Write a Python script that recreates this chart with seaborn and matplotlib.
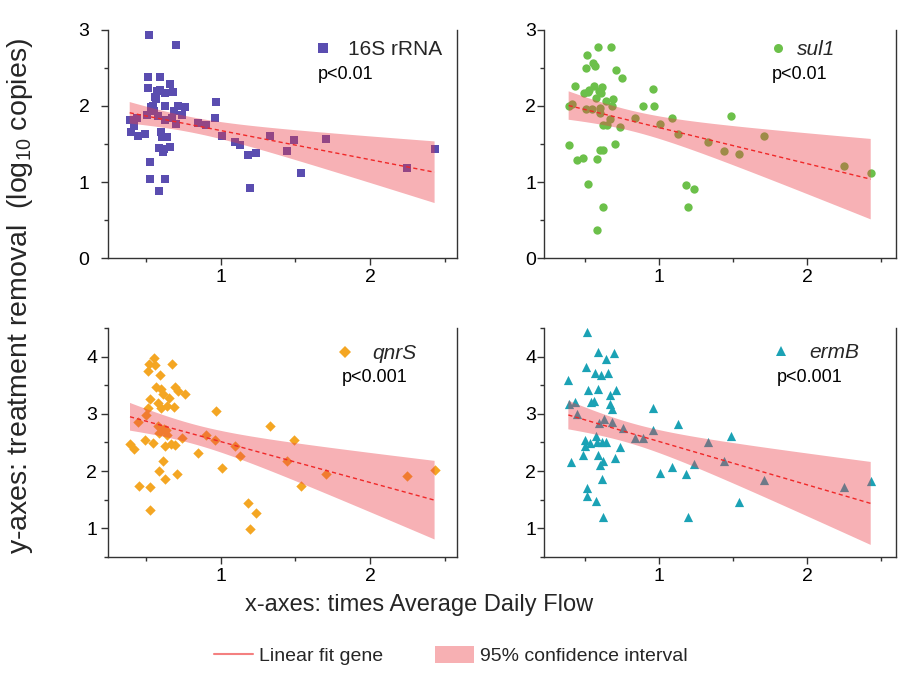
import numpy as np
import pandas as pd
import matplotlib
matplotlib.use("Agg")
import matplotlib.pyplot as plt
import seaborn as sns
from matplotlib.ticker import MultipleLocator
from matplotlib.lines import Line2D
from matplotlib.patches import Patch

# ---------------- data ----------------
x_16s = [0.388, 0.397, 0.419, 0.435, 0.446, 0.489, 0.502, 0.509, 0.509, 0.520, 0.522, 0.522,
         0.531, 0.547, 0.554, 0.561, 0.567, 0.572, 0.578, 0.583, 0.587, 0.592, 0.592, 0.599,
         0.605, 0.612, 0.617, 0.623, 0.628, 0.628, 0.628, 0.639, 0.655, 0.655, 0.673, 0.677,
         0.688, 0.697, 0.700, 0.713, 0.740, 0.760, 0.848, 0.897, 0.962, 0.966, 1.009, 1.094,
         1.128, 1.184, 1.197, 1.235, 1.332, 1.442, 1.489, 1.538, 1.706, 2.247, 2.433]
y_16s = [1.818, 1.651, 1.739, 1.835, 1.608, 1.625, 1.883, 2.238, 2.374, 2.935, 1.266, 1.042,
         1.984, 1.993, 1.927, 2.116, 2.094, 2.194, 1.870, 1.450, 0.880, 2.374, 2.203, 1.660,
         1.586, 1.389, 1.428, 2.168, 2.002, 1.038, 1.809, 1.590, 1.454, 2.286, 1.835, 2.177,
         1.936, 2.795, 1.765, 2.002, 1.883, 1.984, 1.774, 1.748, 1.840, 2.054, 1.599, 1.524,
         1.481, 1.349, 0.920, 1.380, 1.599, 1.402, 1.555, 1.117, 1.564, 1.187, 1.428]

x_sul1 = [0.393, 0.396, 0.418, 0.438, 0.447, 0.490, 0.497, 0.508, 0.508, 0.519, 0.521, 0.524,
          0.530, 0.548, 0.557, 0.564, 0.573, 0.580, 0.582, 0.587, 0.591, 0.598, 0.602, 0.604,
          0.607, 0.613, 0.620, 0.622, 0.625, 0.627, 0.643, 0.652, 0.670, 0.676, 0.685, 0.692,
          0.703, 0.715, 0.737, 0.755, 0.840, 0.897, 0.962, 0.966, 1.009, 1.092, 1.128, 1.184,
          1.196, 1.236, 1.335, 1.440, 1.490, 1.539, 1.710, 2.249, 2.429]
y_sul1 = [2.002, 1.481, 2.024, 2.256, 1.292, 1.310, 2.164, 2.501, 1.958, 2.668, 0.972, 2.177,
          2.212, 1.958, 2.562, 2.256, 2.527, 2.103, 1.305, 0.372, 2.773, 2.190, 1.971, 1.905,
          1.424, 2.168, 2.247, 1.752, 0.670, 1.424, 2.059, 1.752, 1.827, 2.773, 2.002, 2.094,
          1.498, 2.475, 1.721, 2.361, 1.840, 1.993, 2.225, 1.993, 1.756, 1.840, 1.629, 0.964,
          0.679, 0.907, 1.520, 1.402, 1.870, 1.371, 1.608, 1.213, 1.121]

x_qnrs = [0.390, 0.417, 0.444, 0.453, 0.493, 0.500, 0.509, 0.513, 0.520, 0.522, 0.522, 0.527,
          0.543, 0.549, 0.561, 0.565, 0.578, 0.581, 0.587, 0.587, 0.592, 0.596, 0.601, 0.610,
          0.614, 0.617, 0.623, 0.628, 0.632, 0.637, 0.639, 0.650, 0.664, 0.673, 0.686, 0.690,
          0.695, 0.704, 0.715, 0.740, 0.760, 0.848, 0.897, 0.962, 0.966, 1.009, 1.094, 1.128,
          1.184, 1.197, 1.235, 1.332, 1.442, 1.489, 1.538, 1.706, 2.247, 2.433]
y_qnrs = [2.474, 2.386, 2.860, 1.731, 2.550, 2.977, 3.105, 3.749, 3.865, 1.719, 1.322, 3.251,
          2.491, 3.982, 3.848, 3.474, 2.784, 3.193, 2.006, 2.667, 3.673, 3.427, 3.105, 2.170,
          3.339, 2.737, 2.433, 1.860, 2.725, 2.637, 3.135, 3.281, 2.480, 3.877, 3.123, 2.462,
          3.468, 1.953, 3.398, 2.579, 3.339, 2.316, 2.637, 2.550, 3.047, 2.053, 2.433, 2.257,
          1.439, 0.988, 1.263, 2.784, 2.181, 2.550, 1.731, 1.947, 1.906, 2.023]

x_ermb = [0.391, 0.393, 0.411, 0.438, 0.449, 0.490, 0.501, 0.503, 0.508, 0.517, 0.517, 0.519,
          0.524, 0.539, 0.546, 0.562, 0.569, 0.575, 0.580, 0.584, 0.589, 0.591, 0.593, 0.598,
          0.607, 0.613, 0.616, 0.620, 0.625, 0.625, 0.629, 0.643, 0.647, 0.658, 0.670, 0.672,
          0.688, 0.685, 0.697, 0.703, 0.715, 0.737, 0.760, 0.840, 0.897, 0.962, 0.962, 1.009,
          1.092, 1.128, 1.184, 1.198, 1.236, 1.335, 1.440, 1.490, 1.539, 1.710, 2.249, 2.429]
y_ermb = [3.591, 3.175, 2.152, 3.205, 2.994, 2.275, 2.444, 2.550, 3.825, 4.421, 1.702, 1.573,
          3.415, 2.491, 3.205, 3.216, 3.719, 2.608, 1.485, 2.503, 4.070, 3.427, 2.275, 2.842,
          2.111, 3.673, 1.865, 2.503, 2.181, 1.193, 2.912, 2.503, 3.965, 3.708, 3.322, 3.164,
          3.076, 2.854, 4.058, 2.228, 3.415, 2.421, 2.754, 2.579, 2.579, 3.094, 2.725, 1.965,
          2.064, 2.830, 1.953, 1.205, 2.123, 2.503, 2.181, 2.620, 1.456, 1.836, 1.719, 1.819]

genes = ["16S rRNA", "sul1", "qnrS", "ermB"]
p_labels = ["p<0.01", "p<0.01", "p<0.001", "p<0.001"]
x_ticks = [1, 2]
y_ticks_top = [0, 1, 2, 3]
y_ticks_bottom = [1, 2, 3, 4]

# ---------------- style ----------------
sns.set_theme(style="ticks")
plt.rcParams["font.family"] = ["Liberation Sans", "DejaVu Sans"]
plt.rcParams["mathtext.fontset"] = "custom"
plt.rcParams["mathtext.rm"] = "Liberation Sans"
plt.rcParams["mathtext.it"] = "Liberation Sans:italic"

colors = ["#5A4DB0", "#6CC04A", "#F4A623", "#1BA2B5"]
markers = ["s", "o", "D", "^"]
msizes = [32, 36, 28, 44]
italic = [False, True, True, True]
fit_color = "#F02828"
band_face = (235 / 255, 60 / 255, 70 / 255)

fig = plt.figure(figsize=(9.2, 6.76), dpi=100)
fig.patch.set_facecolor("white")

positions = [
    [0.117, 0.618, 0.380, 0.338],
    [0.591, 0.618, 0.383, 0.338],
    [0.117, 0.176, 0.380, 0.339],
    [0.591, 0.176, 0.383, 0.339],
]
xlims = [(0.24, 2.585), (0.225, 2.60), (0.24, 2.585), (0.225, 2.60)]
ylims = [(0, 3), (0, 3), (0.5, 4.5), (0.5, 4.5)]
ypads = [8, 0.5, 2.5, 0.5]
leg_anchor = [(0.585, 0.912), (0.636, 0.912), (0.650, 0.886), (0.645, 0.891)]
leg_pad = [0.72, 0.42, 0.8, 0.85]
p_pos = [(0.602, 0.803), (0.648, 0.803), (0.670, 0.782), (0.662, 0.782)]

data = [(x_16s, y_16s), (x_sul1, y_sul1), (x_qnrs, y_qnrs), (x_ermb, y_ermb)]

# two-sided 95% t quantiles for n-2 degrees of freedom (n ~ 57-60)
T95 = 2.003

for i, (xs, ys) in enumerate(data):
    ax = fig.add_axes(positions[i])
    df = pd.DataFrame({"x": xs, "y": ys})
    sns.scatterplot(data=df, x="x", y="y", ax=ax, color=colors[i], marker=markers[i],
                    s=msizes[i], linewidth=0, legend=False, zorder=1)

    # analytic 95% confidence band of the least-squares fit
    xa = np.asarray(xs)
    ya = np.asarray(ys)
    n = len(xa)
    slope, intercept = np.polyfit(xa, ya, 1)
    resid = ya - (slope * xa + intercept)
    s_err = np.sqrt(np.sum(resid ** 2) / (n - 2))
    xm = xa.mean()
    sxx = np.sum((xa - xm) ** 2)
    grid = np.linspace(xa.min(), xa.max(), 200)
    yhat = slope * grid + intercept
    half = T95 * s_err * np.sqrt(1.0 / n + (grid - xm) ** 2 / sxx)
    ax.fill_between(grid, yhat - half, yhat + half, facecolor=band_face, alpha=0.40,
                    edgecolor="none", zorder=1)
    sns.regplot(data=df, x="x", y="y", ax=ax, scatter=False, ci=None,
                color=fit_color, line_kws={"lw": 1.0, "ls": (0, (3, 2.2)), "zorder": 2})

    ax.set_xlim(*xlims[i])
    ax.set_ylim(*ylims[i])
    ax.set_xticks(x_ticks)
    ax.set_yticks(y_ticks_top if i < 2 else y_ticks_bottom)
    ax.xaxis.set_minor_locator(MultipleLocator(0.5))
    ax.yaxis.set_minor_locator(MultipleLocator(0.5))
    ax.set_xlabel("")
    ax.set_ylabel("")
    ax.tick_params(which="major", direction="out", length=5, width=1, color="#333333",
                   labelsize=14, labelcolor="black")
    ax.tick_params(axis="x", which="major", pad=3)
    ax.tick_params(axis="y", which="major", pad=ypads[i])
    ax.tick_params(which="minor", direction="out", length=3, width=1, color="#333333")
    for side in ["left", "bottom", "right"]:
        ax.spines[side].set_color("#333333")
        ax.spines[side].set_linewidth(1.0)
    ax.spines["top"].set_visible(False)
    ax.set_facecolor("white")

    handle = Line2D([], [], ls="none", marker=markers[i], color=colors[i],
                    markersize=6.5 if markers[i] != "^" else 7.5, markeredgewidth=0)
    leg = ax.legend([handle], [genes[i]], loc="center left", bbox_to_anchor=leg_anchor[i],
                    frameon=False, fontsize=15, handlelength=1.0, handletextpad=leg_pad[i],
                    borderpad=0, borderaxespad=0)
    if italic[i]:
        leg.get_texts()[0].set_style("italic")
    ax.text(p_pos[i][0], p_pos[i][1], p_labels[i], transform=ax.transAxes,
            fontsize=13, ha="left", va="center", color="black")

fig.text(0.022, 0.562, "y-axes: treatment removal  (log$_{10}$ copies)", rotation=90,
         ha="center", va="center", fontsize=20.5)
fig.text(0.455, 0.105, "x-axes: times Average Daily Flow", ha="center", va="center",
         fontsize=17)

leg_handles = [Line2D([], [], color="#F48080", lw=1.5),
               Patch(facecolor="#F7B0B3", edgecolor="none")]
fig.legend(leg_handles, ["Linear fit gene", "95% confidence interval"], loc="center",
           bbox_to_anchor=(0.49, 0.030), ncol=2, frameon=False, fontsize=14,
           handlelength=2.0, handleheight=1.0, handletextpad=0.3, columnspacing=2.7)

fig.savefig("out.png", dpi=100, facecolor="white")
